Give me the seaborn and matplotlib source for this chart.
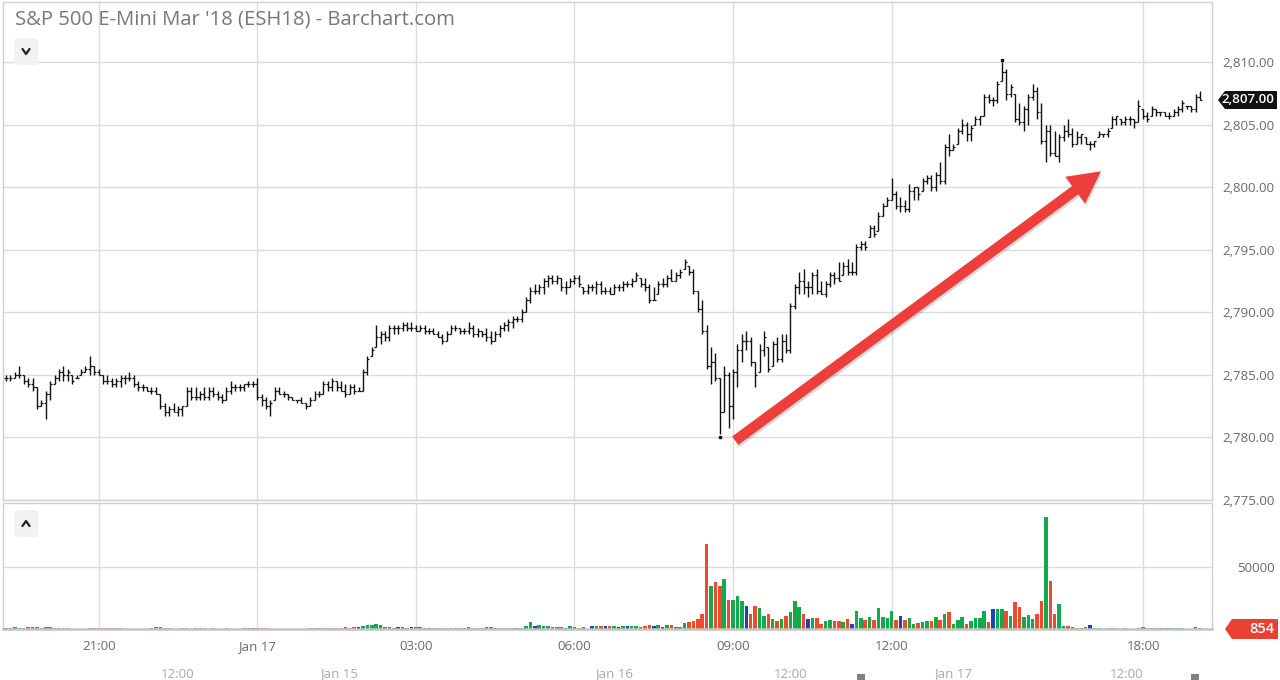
import numpy as np
import pandas as pd
import seaborn as sns
import matplotlib.pyplot as plt
from matplotlib.patches import FancyArrowPatch, FancyBboxPatch, Polygon, Rectangle
from matplotlib.lines import Line2D
from matplotlib.transforms import ScaledTranslation

# ESH18 5-minute bars (high / low / close) plus volume
highs = [
    2785.0, 2785.0, 2785.25, 2785.75, 2785.0, 2784.75, 2784.75, 2784.0, 2783.0, 2783.75,
    2784.5, 2785.0, 2785.5, 2785.75, 2785.5, 2785.0, 2785.0, 2785.5, 2785.75, 2786.5,
    2785.75, 2785.5, 2785.0, 2785.0, 2784.75, 2784.75, 2785.0, 2785.0, 2785.25, 2785.0,
    2784.5, 2784.25, 2784.0, 2784.0, 2784.0, 2783.5, 2782.75, 2782.5, 2782.75, 2782.5,
    2782.5, 2784.0, 2784.0, 2784.0, 2783.75, 2784.0, 2784.0, 2784.0, 2783.75, 2783.5,
    2784.0, 2784.5, 2784.25, 2784.25, 2784.25, 2784.5,
    2784.5, 2784.75, 2783.5, 2783.25, 2783.0, 2784.0, 2784.0, 2783.75, 2783.5, 2783.25,
    2783.0, 2783.25, 2782.75, 2783.25, 2783.75, 2783.75, 2784.5, 2784.5, 2784.75, 2784.5,
    2784.5, 2784.25, 2784.25, 2784.25, 2784.0, 2785.5, 2786.5, 2787.25, 2789.0, 2788.5,
    2788.5, 2789.0, 2789.0, 2789.0, 2789.25, 2789.25, 2789.25, 2789.0, 2789.0, 2789.0,
    2788.75, 2788.75, 2788.5, 2788.25, 2788.5, 2789.0, 2789.0, 2788.75, 2788.75, 2789.25,
    2789.0, 2788.75, 2788.5,
    2788.75, 2788.5, 2788.5, 2789.0, 2789.25, 2789.5, 2789.75, 2789.75, 2790.25, 2791.25,
    2792.0, 2792.25, 2792.25, 2792.75, 2793.0, 2793.0, 2793.0, 2792.75, 2792.5, 2792.75,
    2793.0, 2793.0, 2792.0, 2792.25, 2792.25, 2792.5, 2792.5, 2792.0, 2792.0, 2792.25,
    2792.25, 2792.5, 2792.5, 2792.75, 2793.25, 2792.75, 2792.75, 2792.25, 2792.0, 2792.5,
    2792.75, 2793.0, 2793.5, 2793.25, 2793.5, 2794.25, 2793.75, 2793.5,
    2791.75, 2791.0, 2789.0, 2787.25, 2786.75, 2784.75, 2785.75, 2785.25, 2785.5, 2787.5,
    2788.25, 2788.5, 2788.0, 2786.0, 2787.5, 2788.5, 2787.25, 2787.75, 2788.0, 2788.25,
    2788.25, 2790.75, 2792.25, 2793.25, 2793.5, 2792.5, 2793.25, 2793.5, 2792.5, 2792.5,
    2793.25, 2793.25, 2794.0, 2794.0, 2794.25, 2794.0, 2795.5,
    2795.75, 2795.75, 2797.0, 2797.0, 2798.0, 2798.75, 2799.25, 2800.75, 2799.75, 2799.25,
    2799.0, 2800.25, 2800.0, 2800.0, 2800.75, 2801.0, 2801.0, 2801.25, 2802.0, 2803.5,
    2804.25, 2803.5, 2804.75, 2805.5, 2805.25, 2805.0, 2805.75, 2805.75, 2807.5, 2807.5,
    2807.25, 2808.5, 2810.0, 2809.5, 2808.25, 2807.5, 2806.75, 2806.5, 2807.5,
    2808.25, 2808.0, 2806.75, 2805.0, 2805.0, 2804.5, 2804.25, 2805.0, 2805.5, 2804.75,
    2804.5, 2804.25, 2804.0, 2803.75, 2803.75, 2804.5, 2804.25, 2804.75, 2805.75, 2805.75,
    2805.5, 2805.75, 2805.75, 2805.5, 2807.0, 2806.25, 2806.0, 2806.5, 2806.25, 2806.0,
    2806.0, 2806.0, 2806.25, 2806.5, 2807.0, 2806.5, 2806.5, 2807.5, 2807.75,
]
lows = [
    2784.5, 2784.5, 2784.75, 2784.75, 2784.25, 2784.0, 2783.75, 2782.25, 2782.5, 2781.5,
    2783.0, 2784.25, 2784.5, 2784.5, 2784.5, 2784.25, 2784.75, 2785.0, 2785.25, 2785.0,
    2785.0, 2785.0, 2784.25, 2784.25, 2784.0, 2784.0, 2784.0, 2784.25, 2784.5, 2784.0,
    2783.75, 2783.75, 2783.75, 2783.5, 2783.5, 2782.25, 2781.75, 2781.75, 2782.0, 2781.75,
    2781.75, 2782.5, 2783.0, 2783.0, 2783.0, 2783.0, 2783.0, 2783.25, 2783.0, 2782.75,
    2783.0, 2783.5, 2783.75, 2783.75, 2783.75, 2784.0,
    2784.0, 2783.0, 2782.5, 2782.25, 2781.75, 2783.0, 2783.5, 2783.25, 2783.0, 2783.0,
    2782.75, 2782.75, 2782.25, 2782.5, 2783.0, 2783.25, 2783.5, 2783.75, 2783.75, 2783.75,
    2783.75, 2783.25, 2783.5, 2783.5, 2783.75, 2783.75, 2785.0, 2786.5, 2787.25, 2787.5,
    2787.75, 2787.75, 2788.25, 2788.25, 2788.5, 2788.5, 2788.5, 2788.5, 2788.5, 2788.25,
    2788.25, 2788.25, 2788.0, 2787.5, 2787.75, 2788.25, 2788.5, 2788.25, 2788.25, 2788.25,
    2788.0, 2788.0, 2788.0,
    2787.75, 2787.5, 2787.75, 2788.0, 2788.5, 2788.5, 2788.75, 2789.25, 2789.25, 2790.0,
    2790.75, 2791.5, 2791.5, 2791.5, 2792.0, 2792.25, 2792.25, 2791.75, 2791.5, 2792.0,
    2792.25, 2792.0, 2791.5, 2791.5, 2791.75, 2791.5, 2791.5, 2791.5, 2791.5, 2791.5,
    2791.75, 2791.75, 2792.0, 2792.0, 2792.5, 2792.0, 2791.75, 2790.75, 2791.0, 2791.5,
    2792.0, 2792.0, 2792.5, 2792.5, 2792.75, 2793.5, 2793.0, 2791.5,
    2790.0, 2788.25, 2785.5, 2784.25, 2784.5, 2780.25, 2782.0, 2780.75, 2781.5, 2784.0,
    2786.0, 2787.0, 2785.75, 2784.0, 2785.25, 2786.5, 2785.25, 2785.75, 2786.0, 2786.0,
    2786.75, 2786.75, 2790.25, 2791.5, 2791.5, 2791.25, 2791.5, 2791.5, 2791.5, 2791.25,
    2792.0, 2792.25, 2792.5, 2793.0, 2793.0, 2793.0, 2793.0,
    2795.0, 2795.0, 2796.0, 2796.0, 2796.5, 2797.75, 2798.5, 2799.0, 2798.25, 2798.0,
    2798.0, 2798.0, 2799.0, 2799.0, 2799.75, 2800.25, 2799.75, 2799.75, 2800.25, 2800.25,
    2802.5, 2803.0, 2803.5, 2804.25, 2803.75, 2803.75, 2805.0, 2805.0, 2805.75, 2806.75,
    2806.5, 2806.75, 2808.5, 2807.0, 2807.25, 2805.25, 2805.0, 2804.5, 2805.0,
    2807.0, 2805.5, 2803.5, 2802.0, 2802.5, 2802.5, 2802.0, 2803.75, 2804.0, 2803.25,
    2803.5, 2803.5, 2803.5, 2803.0, 2803.25, 2804.0, 2804.0, 2804.0, 2804.75, 2805.0,
    2805.0, 2805.0, 2805.0, 2804.75, 2805.25, 2805.5, 2805.25, 2805.75, 2805.75, 2805.75,
    2805.75, 2805.5, 2805.75, 2805.75, 2806.0, 2806.25, 2806.0, 2806.0, 2807.0,
]
closes = [
    2784.75, 2784.75, 2785.0, 2785.0, 2784.5, 2784.25, 2784.0, 2782.5, 2782.75, 2783.5,
    2784.25, 2784.75, 2785.25, 2785.0, 2785.25, 2784.5, 2784.75, 2785.25, 2785.5, 2785.75,
    2785.25, 2785.0, 2784.5, 2784.5, 2784.25, 2784.5, 2784.75, 2784.75, 2784.75, 2784.25,
    2784.0, 2784.0, 2783.75, 2783.75, 2783.5, 2782.5, 2782.0, 2782.25, 2782.0, 2782.25,
    2782.5, 2783.75, 2783.25, 2783.25, 2783.5, 2783.25, 2783.75, 2783.5, 2783.25, 2783.0,
    2783.75, 2784.0, 2784.0, 2784.0, 2784.25, 2784.25,
    2784.25, 2783.25, 2783.0, 2782.5, 2782.75, 2783.75, 2783.5, 2783.5, 2783.25, 2783.0,
    2783.0, 2782.75, 2782.5, 2783.0, 2783.5, 2783.5, 2784.25, 2784.0, 2784.5, 2784.0,
    2783.75, 2783.5, 2784.0, 2783.75, 2783.75, 2785.25, 2786.25, 2787.0, 2788.0, 2788.25,
    2788.0, 2788.75, 2788.75, 2788.75, 2789.0, 2788.75, 2788.75, 2788.5, 2788.75, 2788.5,
    2788.5, 2788.25, 2788.0, 2787.75, 2788.25, 2788.75, 2788.75, 2788.5, 2788.5, 2788.75,
    2788.25, 2788.5, 2788.25,
    2788.0, 2787.75, 2788.25, 2788.75, 2789.0, 2789.25, 2789.5, 2789.5, 2790.0, 2791.0,
    2791.75, 2791.75, 2792.0, 2792.5, 2792.75, 2792.5, 2792.75, 2792.0, 2792.0, 2792.5,
    2792.75, 2792.25, 2791.75, 2792.0, 2792.0, 2792.25, 2791.75, 2791.75, 2791.5, 2792.0,
    2792.0, 2792.25, 2792.25, 2792.5, 2793.0, 2792.25, 2792.0, 2791.0, 2791.0, 2792.25,
    2792.25, 2792.75, 2792.5, 2793.0, 2793.25, 2794.0, 2793.25, 2791.75,
    2790.25, 2788.5, 2785.75, 2786.0, 2784.75, 2782.0, 2785.0, 2782.5, 2785.25, 2787.0,
    2787.75, 2787.75, 2786.0, 2785.0, 2787.0, 2788.0, 2785.5, 2787.5, 2786.25, 2787.75,
    2787.0, 2790.5, 2792.0, 2792.5, 2792.0, 2792.0, 2793.0, 2791.75, 2791.5, 2792.25,
    2793.0, 2792.75, 2792.5, 2793.75, 2793.25, 2793.25, 2795.25,
    2795.5, 2795.25, 2796.75, 2796.25, 2797.75, 2798.5, 2799.0, 2799.5, 2798.5, 2798.5,
    2798.25, 2799.75, 2800.0, 2799.5, 2800.5, 2800.75, 2800.0, 2801.0, 2800.5, 2803.25,
    2803.0, 2803.25, 2804.5, 2805.0, 2804.25, 2804.75, 2805.5, 2805.75, 2807.25, 2807.0,
    2807.0, 2808.25, 2809.25, 2807.5, 2808.0, 2805.5, 2805.25, 2806.25, 2807.25,
    2807.75, 2806.0, 2803.75, 2804.5, 2802.75, 2802.5, 2804.0, 2804.5, 2804.25, 2803.5,
    2804.0, 2804.25, 2803.5, 2803.5, 2803.75, 2804.25, 2804.25, 2804.5, 2805.5, 2805.75,
    2805.25, 2805.5, 2805.5, 2805.25, 2806.5, 2805.75, 2805.5, 2806.25, 2806.0, 2806.0,
    2805.75, 2805.75, 2806.0, 2806.25, 2806.75, 2806.5, 2806.25, 2807.25, 2807.0,
]
volumes = [
    1100, 900, 1600, 1000, 900, 1300, 1600, 1600, 1000, 1300,
    1600, 1000, 1100, 900, 1000, 200, 200, 200, 200, 600,
    800, 700, 800, 600, 700, 800, 600, 200, 200, 200,
    200, 200, 200, 900, 1300, 1600, 1000, 900, 200, 200,
    800, 700, 200, 800, 800, 700, 200, 800, 200, 200,
    700, 200, 200, 200, 800, 900, 900, 700, 800, 800,
    200, 200, 200, 200, 200, 200, 200, 200, 200, 700,
    800, 800, 900, 800, 700, 900, 1000, 1600, 1100, 1600,
    1300, 2700, 3200, 3200, 4000, 3200, 1600, 1300, 1100, 1600,
    1300, 1100, 1300, 1600, 1600, 1100, 800, 800, 900, 800,
    800, 900, 800, 700, 800, 1300, 800, 900, 800, 1300,
    1600, 900, 800, 800, 900, 800, 800, 900, 2200, 5400,
    2200, 3200, 2700, 2200, 1300, 1300, 1600, 1100, 2700, 1600,
    800, 1300, 200, 2200, 2200, 2200, 2700, 2200, 2200, 1300,
    2700, 2700, 2200, 2200, 2000, 2500, 3000, 2500, 3500, 2000,
    3000, 3000, 2000, 2000, 5000, 5400, 6700, 8000, 12000, 68500,
    34400, 37900, 34400, 40600, 23600, 23600, 26300, 22800, 18800, 12400,
    18800, 16900, 10800, 12400, 8100, 6200, 8100, 10800, 13400, 22800,
    17700, 12400, 8100, 9100, 9100, 4300, 6200, 7000, 6200, 6200,
    5400, 8100, 4300, 14200, 8900, 7000, 9700, 7000, 16900, 9700,
    9100, 14200, 7000, 10800, 7000, 9100, 4300, 4800, 5400, 6700,
    6200, 9700, 7000, 12400, 13400, 4300, 7000, 9700, 4300, 6200,
    8900, 8900, 14200, 5400, 16100, 16100, 16100, 14200, 10800, 21500,
    17700, 9700, 11600, 8100, 12400, 22300, 90300, 38400, 12400, 20400,
    2700, 2100, 1300, 800, 800, 1600, 3500, 800, 800, 300,
    600, 600, 600, 300, 600, 300, 300, 1000, 1600, 800,
    1200, 600, 600, 600, 600, 600, 600, 600, 300, 300,
    1600, 854,
]

time_ticks = [21.1, 57, 93, 129, 165, 201, 258.1]
time_labels = ["21:00", "Jan 17", "03:00", "06:00", "09:00", "12:00", "18:00"]
nav_labels = ["12:00", "Jan 15", "Jan 16", "12:00", "Jan 17", "12:00"]
nav_x = [178, 339, 614, 791, 953, 1127]
price_ticks = [2775, 2780, 2785, 2790, 2795, 2800, 2805, 2810]
vol_ticks = [50000]
title = "S&P 500 E-Mini Mar '18 (ESH18) - Barchart.com"

# red arrow drawn on the chart (bar index, price)
arrow_from = (165.5, 2779.75)
arrow_to = (248.5, 2801.3)

W, H = 1280, 680
GRID = "#dcdcdc"
FRAME = "#cfcfcf"
TXT = "#6a6a6a"
move_colors = {"up": "#14a94c", "down": "#ee4a2c", "flat": "#1d43b5"}

sns.set_theme(style="white")
plt.rcParams["font.family"] = ["Open Sans", "DejaVu Sans"]


def fx(x):
    return x / W


def fy(y):
    return 1 - y / H


n = len(closes)
bars = np.arange(n)
opens = [closes[0]] + closes[:-1]
opens = [min(max(o, l), h) for o, l, h in zip(opens, lows, highs)]
prev = [opens[0]] + closes[:-1]
moves = ["up" if c > p else ("down" if c < p else "flat") for c, p in zip(closes, prev)]
vol_df = pd.DataFrame({"bar": bars, "volume": volumes, "move": moves})

fig = plt.figure(figsize=(W / 100, H / 100), dpi=100)
ax = fig.add_axes([fx(3), fy(500), fx(1212) - fx(3), fy(2) - fy(500)])
axv = fig.add_axes([fx(3), fy(629), fx(1212) - fx(3), fy(503) - fy(629)])

xlim = (-0.7, 273.7)

# price bars
ax.vlines(bars, lows, highs, color="#111111", lw=1.0, zorder=3)
ax.hlines(opens, bars - 0.45, bars, color="#111111", lw=0.9, zorder=3)
ax.hlines(closes, bars, bars + 0.45, color="#111111", lw=0.9, zorder=3)
lo_i = int(np.argmin(lows))
hi_i = int(np.argmax(highs))
ax.plot([lo_i], [lows[lo_i] - 0.2], marker="s", ms=1.6, color="#111111", zorder=3)
ax.plot([hi_i], [highs[hi_i] + 0.2], marker="s", ms=1.6, color="#111111", zorder=3)

ax.set_xlim(*xlim)
ax.set_ylim(2775, 2775 + 498 / 12.5)
ax.set_xticks(time_ticks)
ax.set_xticklabels([])
ax.yaxis.tick_right()
ax.set_yticks(price_ticks)
ax.set_yticklabels([f"{v:,.2f}" for v in price_ticks])
ax.tick_params(axis="y", length=0, pad=45, labelsize=9.5, labelcolor=TXT)
ax.tick_params(axis="x", length=0)
plt.setp(ax.get_yticklabels(), ha="right")
ax.grid(True, color=GRID, lw=1)
ax.set_axisbelow(True)
for s in ax.spines.values():
    s.set_color(FRAME)
    s.set_linewidth(1)

# volume
sns.barplot(data=vol_df, x="bar", y="volume", hue="move", palette=move_colors,
            native_scale=True, dodge=False, width=0.8, saturation=1,
            errorbar=None, legend=False, linewidth=0, ax=axv)
axv.set_xlim(*xlim)
axv.set_ylim(0, 126 * 50000 / 62)
axv.set_xlabel("")
axv.set_ylabel("")
axv.set_xticks(time_ticks)
axv.set_xticklabels(time_labels)
axv.yaxis.tick_right()
axv.set_yticks(vol_ticks)
axv.set_yticklabels([str(v) for v in vol_ticks])
axv.tick_params(axis="y", length=0, pad=45, labelsize=9.5, labelcolor=TXT)
axv.tick_params(axis="x", length=0, pad=8, labelsize=9.5, labelcolor=TXT)
plt.setp(axv.get_yticklabels(), ha="right")
axv.grid(True, color=GRID, lw=1)
axv.set_axisbelow(True)
for s in axv.spines.values():
    s.set_color(FRAME)
    s.set_linewidth(1)
axv.spines["bottom"].set_color("#c4c4c4")
axv.spines["bottom"].set_linewidth(1.8)

# red arrow with a soft shadow
arrow_style = "simple,head_length=2.3,head_width=2.4,tail_width=0.75"
shadow = FancyArrowPatch(posA=arrow_from, posB=arrow_to, arrowstyle=arrow_style,
                         mutation_scale=10, color="#000000", alpha=0.15, lw=0,
                         shrinkA=0, shrinkB=0, zorder=4)
shadow.set_transform(ax.transData + ScaledTranslation(1 / 100, -2.5 / 100, fig.dpi_scale_trans))
ax.add_patch(shadow)
ax.add_patch(FancyArrowPatch(posA=arrow_from, posB=arrow_to, arrowstyle=arrow_style,
                             mutation_scale=10, color="#ee3e3b", lw=0,
                             shrinkA=0, shrinkB=0, zorder=5))


def tag(axis, value, text, color, x0, x1, h, size):
    yd = axis.transData.transform((0, value))[1]
    yc = H - yd
    pts = [(x0, yc), (x0 + 7, yc - h / 2), (x1, yc - h / 2), (x1, yc + h / 2), (x0 + 7, yc + h / 2)]
    fig.add_artist(Polygon([(fx(a), fy(b)) for a, b in pts], closed=True,
                           transform=fig.transFigure, fc=color, ec="none", zorder=6))
    fig.text(fx(x1 - 3), fy(yc), text, ha="right", va="center", color="white",
             fontsize=size, fontweight="semibold", zorder=7)


tag(ax, closes[-1], f"{closes[-1]:,.2f}", "#111111", 1218, 1277, 18, 9.5)
tag(axv, 0, f"{volumes[-1]}", "#e8412f", 1225, 1278, 20, 10.5)

# title and small toggle buttons
fig.text(fx(15), fy(20), title, ha="left", va="center", color="#777777", fontsize=14.6)
for by, up in [(38, False), (510, True)]:
    fig.add_artist(FancyBboxPatch((fx(14), fy(by + 27)), fx(24), fy(0) - fy(27),
                                  boxstyle="round,pad=0,rounding_size=0.004",
                                  transform=fig.transFigure, fc="#f2f2f2", ec="none"))
    cy = by + 13.5
    dy = -2.5 if up else 2.5
    fig.add_artist(Line2D([fx(22.5), fx(26), fx(29.5)], [fy(cy - dy), fy(cy + dy), fy(cy - dy)],
                          transform=fig.transFigure, color="#222222", lw=1.6))

# navigator row
for x, lbl in zip(nav_x, nav_labels):
    fig.text(fx(x), fy(674), lbl, ha="center", va="center", color="#a8a8a8", fontsize=9.5)
for x in [861, 1195]:
    fig.add_artist(Rectangle((fx(x - 4), fy(680)), fx(8), fy(674) - fy(680),
                             transform=fig.transFigure, fc="#808080", ec="none"))

fig.savefig("out.png", dpi=100, facecolor="white")
